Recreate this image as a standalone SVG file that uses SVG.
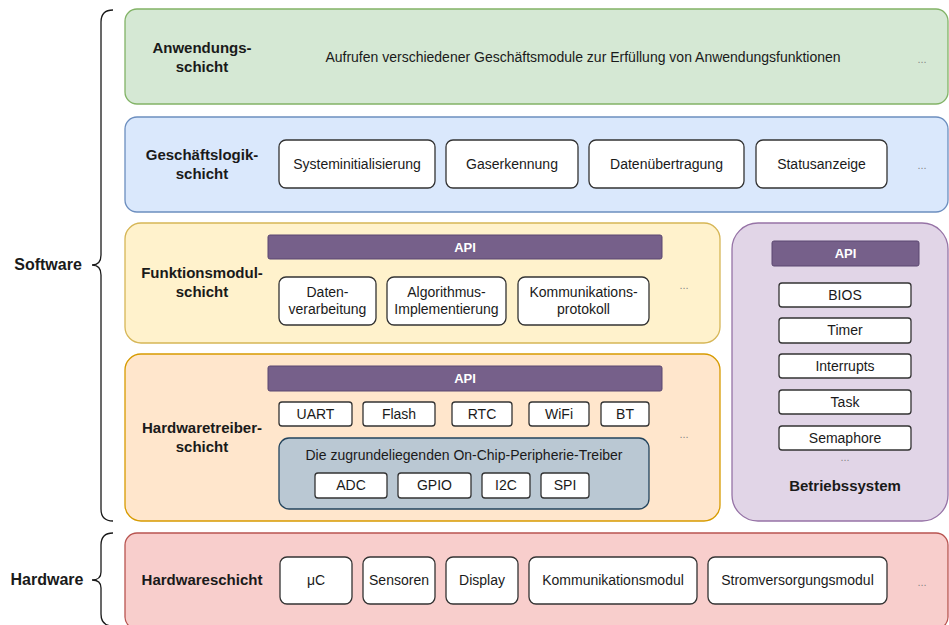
<svg xmlns="http://www.w3.org/2000/svg" width="949" height="625" viewBox="0 0 949 625">
<style>
text{font-family:"Liberation Sans",Arial,sans-serif;fill:#1a1a1a}
.t{font-size:14px;text-anchor:middle}
.b{font-size:15px;font-weight:bold;text-anchor:middle}
.api{font-size:13px;font-weight:bold;text-anchor:middle;fill:#ffffff}
.dots{font-size:11px;text-anchor:middle;fill:#888888}
.box{fill:#ffffff;stroke:#333333;stroke-width:1.3}
.apibar{fill:#76608a;stroke:#5a4770;stroke-width:1}
.brace{fill:none;stroke:#1a1a1a;stroke-width:1.3}
</style>
<rect width="949" height="625" fill="#ffffff"/>

<g id="braces">
<path class="brace" d="M113,10 Q101,10 101,22 L101,255 Q101,265 92,265 Q101,265 101,275 L101,509 Q101,521 113,521"/>
<path class="brace" d="M113,533 Q101,533 101,545 L101,572 Q101,580 92,580 Q101,580 101,588 L101,614 Q101,626 113,626"/>
</g>
<g id="connectors"/>

<g id="label-software"><text x="48" y="270" class="b" style="font-size:16px">Software</text></g>
<g id="label-hardware"><text x="47" y="585" class="b" style="font-size:16px">Hardware</text></g>

<g id="anwendungsschicht">
<rect x="125" y="9" width="823" height="95" rx="12" fill="#d5e8d4" stroke="#82b366" stroke-width="1.3"/>
<text x="202" y="53" class="b">Anwendungs-</text>
<text x="202" y="72" class="b">schicht</text>
<text x="583" y="62" class="t">Aufrufen verschiedener Geschäftsmodule zur Erfüllung von Anwendungsfunktionen</text>
<text x="922" y="63" class="dots">...</text>
</g>

<g id="geschaeftslogikschicht">
<rect x="125" y="117" width="823" height="95" rx="12" fill="#dae8fc" stroke="#6c8ebf" stroke-width="1.3"/>
<text x="202" y="160" class="b">Geschäftslogik-</text>
<text x="202" y="179" class="b">schicht</text>
<g id="systeminitialisierung"><rect class="box" x="279" y="140" width="156" height="48" rx="7"/><text x="357" y="169" class="t">Systeminitialisierung</text></g>
<g id="gaserkennung"><rect class="box" x="446" y="140" width="132" height="48" rx="7"/><text x="512" y="169" class="t">Gaserkennung</text></g>
<g id="datenuebertragung"><rect class="box" x="589" y="140" width="155" height="48" rx="7"/><text x="666.5" y="169" class="t">Datenübertragung</text></g>
<g id="statusanzeige"><rect class="box" x="756" y="140" width="131" height="48" rx="7"/><text x="821.5" y="169" class="t">Statusanzeige</text></g>
<text x="922" y="169" class="dots">...</text>
</g>

<g id="funktionsmodulschicht">
<rect x="125" y="223" width="595" height="120" rx="16" fill="#fff2cc" stroke="#d6b656" stroke-width="1.3"/>
<text x="202" y="278" class="b">Funktionsmodul-</text>
<text x="202" y="297" class="b">schicht</text>
<g id="api-funktion"><rect class="apibar" x="268" y="235" width="394" height="24" rx="2"/><text x="465" y="252" class="api">API</text></g>
<g id="datenverarbeitung"><rect class="box" x="279" y="277" width="97" height="48" rx="7"/><text x="327.5" y="297" class="t">Daten-</text><text x="327.5" y="314" class="t">verarbeitung</text></g>
<g id="algorithmus"><rect class="box" x="387" y="277" width="119" height="48" rx="7"/><text x="446.5" y="297" class="t">Algorithmus-</text><text x="446.5" y="314" class="t">Implementierung</text></g>
<g id="kommunikationsprotokoll"><rect class="box" x="518" y="277" width="131" height="48" rx="7"/><text x="583.5" y="297" class="t">Kommunikations-</text><text x="583.5" y="314" class="t">protokoll</text></g>
<text x="684" y="289" class="dots">...</text>
</g>

<g id="hardwaretreiberschicht">
<rect x="125" y="354" width="595" height="167" rx="16" fill="#ffe6cc" stroke="#d79b00" stroke-width="1.3"/>
<text x="202" y="433" class="b">Hardwaretreiber-</text>
<text x="202" y="452" class="b">schicht</text>
<g id="api-treiber"><rect class="apibar" x="268" y="366" width="394" height="25" rx="2"/><text x="465" y="383" class="api">API</text></g>
<g id="uart"><rect class="box" x="279" y="402" width="73" height="24" rx="3"/><text x="315.5" y="419" class="t">UART</text></g>
<g id="flash"><rect class="box" x="363" y="402" width="72" height="24" rx="3"/><text x="399" y="419" class="t">Flash</text></g>
<g id="rtc"><rect class="box" x="452" y="402" width="60" height="24" rx="3"/><text x="482" y="419" class="t">RTC</text></g>
<g id="wifi"><rect class="box" x="529" y="402" width="60" height="24" rx="3"/><text x="559" y="419" class="t">WiFi</text></g>
<g id="bt"><rect class="box" x="601" y="402" width="48" height="24" rx="3"/><text x="625" y="419" class="t">BT</text></g>
<g id="onchip">
<rect x="279" y="438" width="370" height="71" rx="10" fill="#bac8d3" stroke="#23445d" stroke-width="1.3"/>
<text x="464" y="460" class="t">Die zugrundeliegenden On-Chip-Peripherie-Treiber</text>
<g id="adc"><rect class="box" x="315" y="473" width="72" height="25" rx="3"/><text x="351" y="490" class="t">ADC</text></g>
<g id="gpio"><rect class="box" x="398" y="473" width="73" height="25" rx="3"/><text x="434.5" y="490" class="t">GPIO</text></g>
<g id="i2c"><rect class="box" x="482" y="473" width="48" height="25" rx="3"/><text x="506" y="490" class="t">I2C</text></g>
<g id="spi"><rect class="box" x="541" y="473" width="48" height="25" rx="3"/><text x="565" y="490" class="t">SPI</text></g>
</g>
<text x="684" y="438" class="dots">...</text>
</g>

<g id="betriebssystem">
<rect x="732" y="223" width="216" height="298" rx="26" fill="#e1d5e7" stroke="#9673a6" stroke-width="1.3"/>
<g id="api-os"><rect class="apibar" x="772" y="241" width="147" height="25" rx="2"/><text x="845.5" y="258" class="api">API</text></g>
<g id="bios"><rect class="box" x="779" y="283" width="132" height="24" rx="3"/><text x="845" y="300" class="t">BIOS</text></g>
<g id="timer"><rect class="box" x="779" y="318" width="132" height="25" rx="3"/><text x="845" y="335" class="t">Timer</text></g>
<g id="interrupts"><rect class="box" x="779" y="354" width="132" height="24" rx="3"/><text x="845" y="371" class="t">Interrupts</text></g>
<g id="task"><rect class="box" x="779" y="390" width="132" height="24" rx="3"/><text x="845" y="407" class="t">Task</text></g>
<g id="semaphore"><rect class="box" x="779" y="426" width="132" height="24" rx="3"/><text x="845" y="443" class="t">Semaphore</text></g>
<text x="845" y="461" class="dots">...</text>
<text x="845" y="491" class="b">Betriebssystem</text>
</g>

<g id="hardwareschicht">
<rect x="125" y="533" width="823" height="96" rx="12" fill="#f8cecc" stroke="#b85450" stroke-width="1.3"/>
<text x="202" y="585" class="b">Hardwareschicht</text>
<g id="uc"><rect class="box" x="280" y="557" width="72" height="47" rx="7"/><text x="316" y="585" class="t">μC</text></g>
<g id="sensoren"><rect class="box" x="363" y="557" width="72" height="47" rx="7"/><text x="399" y="585" class="t">Sensoren</text></g>
<g id="display"><rect class="box" x="446" y="557" width="72" height="47" rx="7"/><text x="482" y="585" class="t">Display</text></g>
<g id="kommunikationsmodul"><rect class="box" x="529" y="557" width="168" height="47" rx="7"/><text x="613" y="585" class="t">Kommunikationsmodul</text></g>
<g id="stromversorgungsmodul"><rect class="box" x="708" y="557" width="179" height="47" rx="7"/><text x="797.5" y="585" class="t">Stromversorgungsmodul</text></g>
<text x="922" y="586" class="dots">...</text>
</g>
</svg>
